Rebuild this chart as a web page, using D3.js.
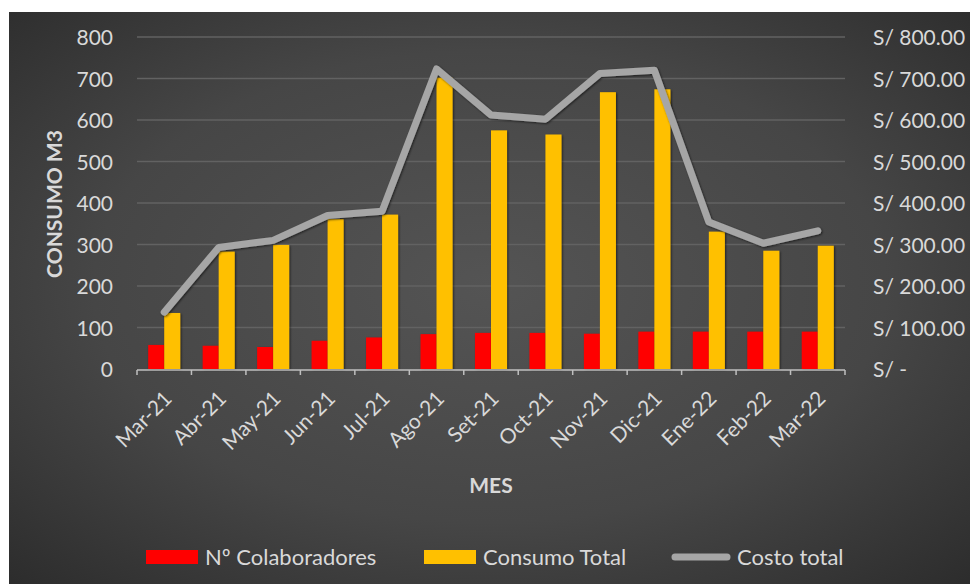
<!DOCTYPE html>
<html>
<head>
<meta charset="utf-8">
<script src="https://cdn.jsdelivr.net/npm/d3@7"></script>
<style>
    body { margin: 0; background: #ffffff; }
    #chart-area { width: 970px; height: 584px; }
    text { font-family: Lato, "Noto Sans", sans-serif; fill: #d9d9d9; }
</style>
</head>
<body>
<div id="chart-area"></div>
<script>

// values
const months = ["Mar-21", "Abr-21", "May-21", "Jun-21", "Jul-21", "Ago-21", "Set-21",
    "Oct-21", "Nov-21", "Dic-21", "Ene-22", "Feb-22", "Mar-22"];
const colaboradores = [58, 56, 53, 68, 76, 84, 87, 87, 85, 90, 90, 90, 90];
const consumoTotal = [135, 283, 299, 361, 372, 702, 575, 565, 667, 674, 331, 285, 297];
const costoTotal = [137, 293, 310, 370, 380, 723, 612, 602, 712, 720, 354, 303, 333];
const leftTicks = [0, 100, 200, 300, 400, 500, 600, 700, 800];
const rightTicks = [0, 100, 200, 300, 400, 500, 600, 700, 800];

const legendItems = [
    {label: "Nº Colaboradores", type: "rect", color: "#ff0000"},
    {label: "Consumo Total", type: "rect", color: "#ffc000"},
    {label: "Costo total", type: "line", color: "#a6a6a6"}
];

class ComboVis {

    constructor(_parentElement) {
        this.parentElement = _parentElement;
        this.initVis();
    }

    initVis() {
        let vis = this;

        vis.width = 970;
        vis.height = 584;
        vis.plot = {left: 137, right: 845, top: 37, bottom: 369};

        vis.svg = d3.select("#" + vis.parentElement).append("svg")
            .attr("width", vis.width)
            .attr("height", vis.height);

        // radial background like the excel dark style
        let defs = vis.svg.append("defs");
        let grad = defs.append("radialGradient")
            .attr("id", "bg-grad")
            .attr("cx", "50%").attr("cy", "48%").attr("r", "75%");
        grad.append("stop").attr("offset", "0%").attr("stop-color", "#545454");
        grad.append("stop").attr("offset", "55%").attr("stop-color", "#464646");
        grad.append("stop").attr("offset", "100%").attr("stop-color", "#2a2a2a");

        let shadow = defs.append("filter").attr("id", "shadow")
            .attr("x", "-20%").attr("y", "-20%").attr("width", "140%").attr("height", "140%");
        shadow.append("feDropShadow")
            .attr("dx", 1).attr("dy", 1).attr("stdDeviation", 1.2)
            .attr("flood-color", "#000").attr("flood-opacity", 0.6);

        vis.svg.append("rect")
            .attr("x", 9).attr("y", 12)
            .attr("width", vis.width - 9).attr("height", vis.height - 12)
            .attr("fill", "url(#bg-grad)");

        // scales
        vis.x = d3.scaleBand()
            .domain(months)
            .range([vis.plot.left, vis.plot.right])
            .paddingInner(0).paddingOuter(0);

        vis.xSub = d3.scaleBand()
            .domain(["col", "cons"])
            .range([0, vis.x.bandwidth()])
            .paddingInner(0).paddingOuter(0.7);

        vis.y = d3.scaleLinear().domain([0, 800]).range([vis.plot.bottom, vis.plot.top]);
        vis.yRight = d3.scaleLinear().domain([0, 800]).range([vis.plot.bottom, vis.plot.top]);

        vis.updateVis();
    }

    updateVis() {
        let vis = this;

        // gridlines
        vis.svg.append("g").selectAll("line")
            .data(leftTicks.filter(d => d > 0))
            .enter().append("line")
            .attr("x1", vis.plot.left).attr("x2", vis.plot.right)
            .attr("y1", d => vis.y(d)).attr("y2", d => vis.y(d))
            .attr("stroke", "#626262").attr("stroke-width", 1.3);

        // left axis
        let yAxis = d3.axisLeft(vis.y).tickValues(leftTicks).tickSize(0).tickPadding(0);
        let gy = vis.svg.append("g")
            .attr("transform", "translate(113,0)")
            .call(yAxis);
        gy.select(".domain").remove();
        gy.selectAll("text")
            .attr("dy", "0.36em")
            .style("font-size", "21px")
            .attr("fill", "#d9d9d9");

        // right axis
        let moneyFmt = d3.format(",.2f");
        let yAxisR = d3.axisRight(vis.yRight).tickValues(rightTicks).tickSize(0).tickPadding(0)
            .tickFormat(d => d === 0 ? "S/ -" : "S/ " + moneyFmt(d));
        let gyr = vis.svg.append("g")
            .attr("transform", "translate(873,0)")
            .call(yAxisR);
        gyr.select(".domain").remove();
        gyr.selectAll("text")
            .attr("dy", "0.36em")
            .style("font-size", "21px")
            .attr("fill", "#d9d9d9");

        // bars
        let groups = vis.svg.append("g").selectAll("g")
            .data(months)
            .enter().append("g")
            .attr("transform", d => "translate(" + vis.x(d) + ",0)");

        groups.append("rect")
            .attr("x", vis.xSub("col"))
            .attr("width", vis.xSub.bandwidth())
            .attr("y", (d, i) => vis.y(colaboradores[i]))
            .attr("height", (d, i) => vis.y(0) - vis.y(colaboradores[i]))
            .attr("fill", "#ff0000")
            .attr("filter", "url(#shadow)");

        groups.append("rect")
            .attr("x", vis.xSub("cons"))
            .attr("width", vis.xSub.bandwidth())
            .attr("y", (d, i) => vis.y(consumoTotal[i]))
            .attr("height", (d, i) => vis.y(0) - vis.y(consumoTotal[i]))
            .attr("fill", "#ffc000")
            .attr("filter", "url(#shadow)");

        // x axis line + tick marks between categories
        let xg = vis.svg.append("g");
        xg.append("line")
            .attr("x1", vis.plot.left).attr("x2", vis.plot.right)
            .attr("y1", vis.plot.bottom + 1).attr("y2", vis.plot.bottom + 1)
            .attr("stroke", "#bfbfbf").attr("stroke-width", 1.5);
        let tickPos = months.map(m => vis.x(m)).concat([vis.plot.right]);
        xg.selectAll(".tick-mark")
            .data(tickPos)
            .enter().append("line")
            .attr("class", "tick-mark")
            .attr("x1", d => d).attr("x2", d => d)
            .attr("y1", vis.plot.bottom + 1).attr("y2", vis.plot.bottom + 6)
            .attr("stroke", "#bfbfbf").attr("stroke-width", 1.5);

        xg.selectAll(".x-label")
            .data(months)
            .enter().append("text")
            .attr("class", "x-label")
            .attr("text-anchor", "end")
            .style("font-size", "21px")
            .attr("transform", d => {
                let cx = vis.x(d) + vis.x.bandwidth() / 2 + 9;
                return "translate(" + cx + "," + (vis.plot.bottom + 31) + ") rotate(-45)";
            })
            .text(d => d);

        // cost line
        let line = d3.line()
            .x((d, i) => vis.x(months[i]) + vis.x.bandwidth() / 2)
            .y(d => vis.yRight(d));

        vis.svg.append("path")
            .datum(costoTotal)
            .attr("d", line)
            .attr("fill", "none")
            .attr("stroke", "#a6a6a6")
            .attr("stroke-width", 7)
            .attr("stroke-linecap", "round")
            .attr("stroke-linejoin", "round")
            .attr("filter", "url(#shadow)");

        // axis titles
        vis.svg.append("text")
            .attr("transform", "translate(62,204) rotate(-90)")
            .attr("text-anchor", "middle")
            .style("font-size", "21px")
            .style("font-weight", "bold")
            .text("CONSUMO M3");

        vis.svg.append("text")
            .attr("x", 491).attr("y", 493)
            .attr("text-anchor", "middle")
            .style("font-size", "21px")
            .style("font-weight", "bold")
            .text("MES");

        // legend
        let legendX = [146, 424, 671];
        let lg = vis.svg.append("g").selectAll("g")
            .data(legendItems)
            .enter().append("g")
            .attr("transform", (d, i) => "translate(" + legendX[i] + ",557)");

        lg.filter(d => d.type === "rect").append("rect")
            .attr("x", 0).attr("y", -7)
            .attr("width", 52).attr("height", 14)
            .attr("fill", d => d.color);

        lg.filter(d => d.type === "line").append("line")
            .attr("x1", 4).attr("x2", 56)
            .attr("y1", 0).attr("y2", 0)
            .attr("stroke", d => d.color)
            .attr("stroke-width", 7)
            .attr("stroke-linecap", "round");

        lg.append("text")
            .attr("x", (d, i) => i === 2 ? 66 : 59)
            .attr("y", 0)
            .attr("dy", "0.36em")
            .style("font-size", "22px")
            .text(d => d.label);
    }
}

let comboVis = new ComboVis("chart-area");

</script>
</body>
</html>
